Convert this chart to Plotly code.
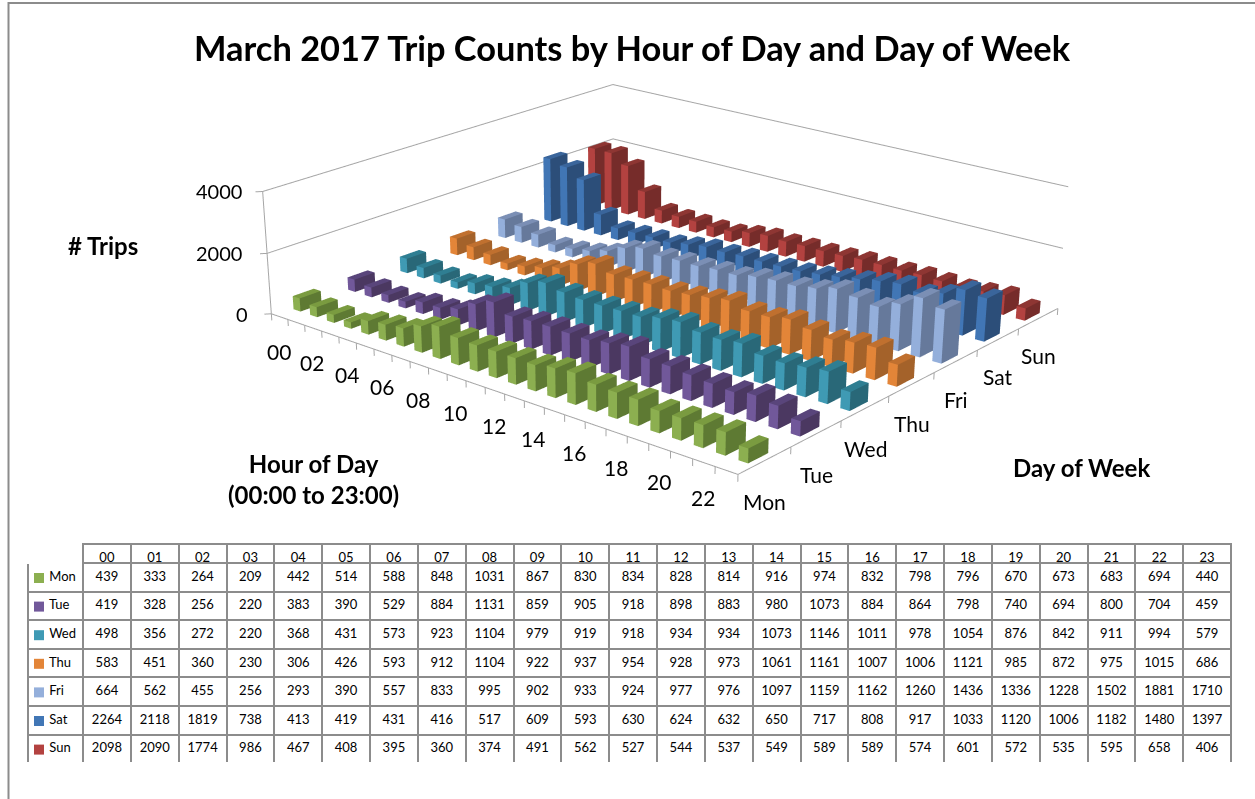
import numpy as np
import plotly.graph_objects as go

HOURS = [f"{h:02d}" for h in range(24)]
DAYS = ["Mon", "Tue", "Wed", "Thu", "Fri", "Sat", "Sun"]
MON = [439,333,264,209,442,514,588,848,1031,867,830,834,828,814,916,974,832,798,796,670,673,683,694,440]
TUE = [419,328,256,220,383,390,529,884,1131,859,905,918,898,883,980,1073,884,864,798,740,694,800,704,459]
WED = [498,356,272,220,368,431,573,923,1104,979,919,918,934,934,1073,1146,1011,978,1054,876,842,911,994,579]
THU = [583,451,360,230,306,426,593,912,1104,922,937,954,928,973,1061,1161,1007,1006,1121,985,872,975,1015,686]
FRI = [664,562,455,256,293,390,557,833,995,902,933,924,977,976,1097,1159,1162,1260,1436,1336,1228,1502,1881,1710]
SAT = [2264,2118,1819,738,413,419,431,416,517,609,593,630,624,632,650,717,808,917,1033,1120,1006,1182,1480,1397]
SUN = [2098,2090,1774,986,467,408,395,360,374,491,562,527,544,537,549,589,589,574,601,572,535,595,658,406]
SERIES = [MON, TUE, WED, THU, FRI, SAT, SUN]
Z_TICKS = [0, 2000, 4000]
FRONT = ["#8CAF50", "#71589A", "#3F9AB4", "#E38538", "#94AFDB", "#4176B5", "#B34240"]
TOP = ["#7A9B40", "#59457B", "#2F7E92", "#C0702F", "#7B8FB5", "#3A659B", "#8E3633"]
SIDE = ["#5E7A33", "#4B3861", "#296878", "#A4622A", "#66799B", "#2C4E79", "#762C2A"]

W, H = 1255, 799
# The reference has a much weaker perspective than a 799px tall scene allows, so the
# figure is taller than the window and the page is shifted up by OFF pixels.
FIG_H = 1866
OFF = 456

def py(y):
    return 1 - (y + OFF) / FIG_H

# Camera fitted to the reference frame, for plot box x[-0.5,23.5] y[-0.5,6.5] z[0,4000]
ASPECT0 = np.array([2.0, 1.7724, 0.4310])
EYE0 = np.array([4.5573, -5.5473, 2.4874])
CENTER0 = np.array([0.5287, -0.8208, -0.3883])
X0, X1, Y0, Y1, Z0, Z1 = -0.5, 23.5, -0.5, 6.5, 0, 4000
# Ranges are extended a little on every side so that frame lines and tick marks are not clipped
XLOW, YLOW, ZLOW = -0.7, -0.6, -220
lo0 = np.array([X0, Y0, Z0]); hi0 = np.array([X1, Y1, Z1])
lo = np.array([XLOW, YLOW, ZLOW]); hi = np.array([23.7, 6.7, 4200])
aspect = ASPECT0 * (hi - lo) / (hi0 - lo0)
delta = ((lo0 + hi0) / 2 - (lo + hi) / 2) / (hi0 - lo0) * ASPECT0
eye = EYE0 + delta
center = CENTER0 + delta

fig = go.Figure()
BX, BY = 0.42, 0.38
for d, vals in enumerate(SERIES):
    xs, ys, zs, i, j, k, fc = [], [], [], [], [], [], []
    for h, v in enumerate(vals):
        n = len(xs)
        x0, x1, y0, y1 = h-BX/2, h+BX/2, d-BY/2, d+BY/2
        xs += [x0,x1,x1,x0,x0,x1,x1,x0]
        ys += [y0,y0,y1,y1,y0,y0,y1,y1]
        zs += [0,0,0,0,v,v,v,v]
        for tri, col in [((0,1,5),FRONT[d]),((0,5,4),FRONT[d]),((1,2,6),SIDE[d]),((1,6,5),SIDE[d]),((4,5,6),TOP[d]),((4,6,7),TOP[d])]:
            i.append(n+tri[0]); j.append(n+tri[1]); k.append(n+tri[2]); fc.append(col)
    fig.add_trace(go.Mesh3d(x=xs,y=ys,z=zs,i=i,j=j,k=k,facecolor=fc,flatshading=True,name=DAYS[d],
        lighting=dict(ambient=1,diffuse=0,specular=0,fresnel=0,roughness=1),hoverinfo="skip",showscale=False))

LINE = "#a6a6a6"
lx, ly, lz = [], [], []
def seg(*pts):
    for p in pts:
        lx.append(p[0]); ly.append(p[1]); lz.append(p[2])
    lx.append(None); ly.append(None); lz.append(None)
for z in Z_TICKS[1:]:
    seg((X0,Y0,z),(X0,Y1,z),(X1,Y1,z))
seg((X0,Y0,Z0),(X0,Y0,Z1))
seg((X0,Y0,Z0),(X1,Y0,Z0),(X1,Y1,Z0))
for h in range(25):
    seg((h-0.5,Y0,Z0),(h-0.5,Y0,ZLOW))
for d in range(1,8):
    seg((X1,d-0.5,Z0),(X1,d-0.5,ZLOW))
for z in Z_TICKS:
    seg((X0,Y0,z),(X0-0.184,Y0-0.07,z))
fig.add_trace(go.Scatter3d(x=lx,y=ly,z=lz,mode="lines",line=dict(color=LINE,width=2),hoverinfo="skip",showlegend=False))

FONT = "Lato"
ann3d = []
for h in range(0,24,2):
    ann3d.append(dict(x=h,y=Y0,z=0,text=HOURS[h],showarrow=False,xanchor="center",yanchor="middle",xshift=-1,yshift=-34.5,font=dict(family=FONT,size=21,color="#000")))
for d,name in enumerate(DAYS):
    ann3d.append(dict(x=X1,y=d,z=0,text=name,showarrow=False,xanchor="center",yanchor="middle",xshift=0,yshift=-41.5+d*0.8,font=dict(family=FONT,size=21,color="#000")))
for z,sh in zip(Z_TICKS,[-21,-23,-19]):
    ann3d.append(dict(x=X0,y=Y0,z=z,text=str(z),showarrow=False,xanchor="right",yanchor="middle",xshift=sh,font=dict(family=FONT,size=20,color="#000")))

base = dict(showbackground=False,showgrid=False,zeroline=False,showticklabels=False,showspikes=False,title=dict(text=""),showline=False,ticks="")
fig.update_layout(
    width=W,height=FIG_H,margin=dict(l=0,r=0,t=0,b=0),paper_bgcolor="white",showlegend=False,
    scene=dict(domain=dict(x=[0,1],y=[0,1]),
        xaxis=dict(base,range=[lo[0],hi[0]]),
        yaxis=dict(base,range=[lo[1],hi[1]]),
        zaxis=dict(base,range=[lo[2],hi[2]]),
        aspectmode="manual",aspectratio=dict(x=float(aspect[0]),y=float(aspect[1]),z=float(aspect[2])),
        camera=dict(eye=dict(x=float(eye[0]),y=float(eye[1]),z=float(eye[2])),center=dict(x=float(center[0]),y=float(center[1]),z=float(center[2])),up=dict(x=0,y=0,z=1),projection=dict(type="perspective")),
        annotations=ann3d))

def A(x,y,t,s):
    fig.add_annotation(x=x/W,y=py(y),xref="paper",yref="paper",xanchor="center",yanchor="middle",text=f"<b>{t}</b>",showarrow=False,font=dict(family=FONT,size=s,color="#000"),align="center")
A(633,48,"March 2017 Trip Counts by Hour of Day and Day of Week",34.4)
A(103,245,"# Trips",24)
A(313,479,"Hour of Day<br>(00:00 to 23:00)",24)
A(1081,467,"Day of Week",24)

TX0,TX1,TY0,TY1=28,1231,544,763
GRID="#8c8c8c"
cols=[["\u00a0\u00a0\u00a0\u00a0"+d for d in DAYS]]+[[str(s[h]) for s in SERIES] for h in range(24)]
fig.add_trace(go.Table(domain=dict(x=[TX0/W,TX1/W],y=[py(TY1),py(TY0)]),columnwidth=[55]+[47.83]*24,
    header=dict(values=[""]+HOURS,height=19,align="center",fill_color="white",line=dict(color=["white"]+[GRID]*24,width=2),font=dict(family=FONT,size=13,color="#000")),
    cells=dict(values=cols,height=28.6,align=["left"]+["center"]*24,fill_color="white",line=dict(color=GRID,width=2),font=dict(family=FONT,size=13,color="#000"))))
for d in range(7):
    y=578+d*28.6
    fig.add_shape(type="rect",xref="paper",yref="paper",x0=34/W,x1=44/W,y0=py(y+5),y1=py(y-5),fillcolor=FRONT[d],line_width=0)
fig.add_shape(type="path",xref="paper",yref="paper",path=f"M {8.5/W} {py(799)} L {8.5/W} {py(3)} L 1 {py(3)}",line=dict(color="#8c8c8c",width=2))
fig.write_html("out.html",config={"displayModeBar":False},post_script=f"document.documentElement.style.overflow='hidden';document.body.style.overflow='hidden';document.body.style.margin='-{OFF}px 0 0 0';")
